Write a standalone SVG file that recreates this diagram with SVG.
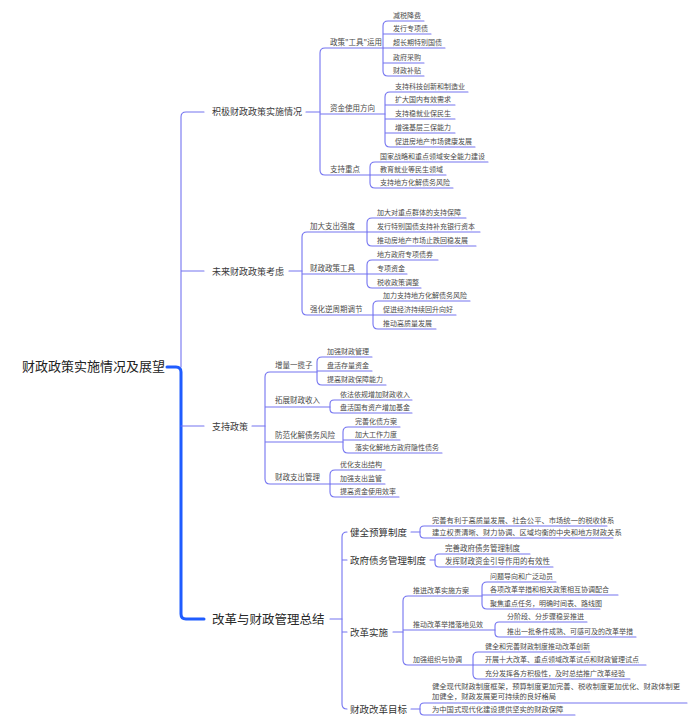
<svg xmlns="http://www.w3.org/2000/svg" width="700" height="727" viewBox="0 0 700 727">
<style>
text{font-family:"Noto Sans CJK SC","Noto Sans",sans-serif;fill:#4a4a4a}
.root{font-size:13px;fill:#222}
.b{font-size:9px;fill:#3a3a3a}
.b4{font-size:12.5px;fill:#2a2a2a}
.l1{font-size:7.5px}
.m1{font-size:9.5px;fill:#333}
.lf{font-size:7px}
.lw{font-size:7.3px}
.c path{fill:none;stroke:#7474f0;stroke-width:1.1;stroke-linecap:round}
.c path.th{stroke:#1f5cff;stroke-width:3}
</style>
<rect width="700" height="727" fill="#fff"/>
<g class="c" id="connectors">
<path class="th" d="M167,367 H176 Q181,367 181,372 V614 Q181,619 186,619 H204"/>
<path d="M181,367 V117 Q181,112 186,112 H204 M181,271 H204 M181,426 H204"/>
<!-- branch 1 -->
<path d="M306,112 H320"/>
<path d="M325,48 Q320,48 320,53 V170 Q320,175 325,175 M325,48 H383 M320,114 H385 M325,175 H370"/>
<path d="M388,21 Q383,21 383,26 V71 Q383,76 388,76 M388,21 H424 M383,34 H431 M383,48 H445 M383,63 H424 M388,76 H424"/>
<path d="M390,92 Q385,92 385,97 V142 Q385,147 390,147 M390,92 H468 M385,105 H455 M385,119 H455 M385,133 H455 M390,147 H475"/>
<path d="M375,162 Q370,162 370,167 V183 Q370,188 375,188 M375,162 H488 M370,175 H446 M375,188 H453"/>
<!-- branch 2 -->
<path d="M289,271 H302"/>
<path d="M307,232 Q302,232 302,237 V310 Q302,315 307,315 M307,232 H367 M302,274 H367 M307,315 H373"/>
<path d="M372,218 Q367,218 367,223 V241 Q367,246 372,246 M372,218 H466 M367,232 H480 M372,246 H476"/>
<path d="M372,260 Q367,260 367,265 V283 Q367,288 372,288 M372,260 H438 M367,274 H407 M372,288 H421"/>
<path d="M378,301 Q373,301 373,306 V324 Q373,329 378,329 M378,301 H470 M373,315 H456 M378,329 H436"/>
<!-- branch 3 -->
<path d="M252,426 H265"/>
<path d="M270,372 Q265,372 265,377 V479 Q265,484 270,484 M270,372 H317 M265,407 H330 M265,442 H343 M270,484 H330"/>
<path d="M322,357 Q317,357 317,362 V380 Q317,385 322,385 M322,357 H372 M317,371 H372 M322,385 H386"/>
<path d="M334,400 Q330,400 330,404 V409 Q330,413 334,413 M334,400 H412 M334,413 H412"/>
<path d="M348,427 Q343,427 343,432 V448 Q343,453 348,453 M348,427 H400 M343,440 H400 M348,453 H442"/>
<path d="M335,470 Q330,470 330,475 V492 Q330,497 335,497 M335,470 H385 M330,484 H385 M335,497 H399"/>
<!-- branch 4 -->
<path d="M330,619 H342"/>
<path d="M347,532 Q342,532 342,537 V704 Q342,709 347,709 M342,560 H347 M342,632 H347"/>
<path d="M411,532 H420 M430,560 H435 M393,632 H403 M411,709 H420"/>
<path d="M424,526 Q420,526 420,530 V534 Q420,538 424,538 M424,526 H607 M424,538 H613"/>
<path d="M439,554 Q435,554 435,558 V563 Q435,567 439,567 M439,554 H530 M439,567 H553"/>
<path d="M408,596 Q403,596 403,601 V660 Q403,665 408,665 M408,596 H482 M403,630 H495 M408,665 H473"/>
<path d="M487,582 Q482,582 482,587 V604 Q482,609 487,609 M487,582 H556 M482,595 H618 M487,609 H600"/>
<path d="M499,622 Q495,622 495,626 V633 Q495,637 499,637 M499,622 H587 M499,637 H636"/>
<path d="M478,652 Q473,652 473,657 V674 Q473,679 478,679 M478,652 H590 M473,665 H646 M478,679 H630"/>
<path d="M424,703 Q420,703 420,707 V711 Q420,715 424,715 M424,703 H687 M424,715 H575"/>
</g>
<g id="root"><text class="root" x="22" y="371">财政政策实施情况及展望</text></g>
<g id="b1">
<text class="b" x="212" y="115">积极财政政策实施情况</text>
<g id="b1-1"><text class="l1" x="330" y="45">政策"工具"运用</text>
<text class="lf" x="393" y="18">减税降费</text>
<text class="lf" x="393" y="31">发行专项债</text>
<text class="lf" x="393" y="45">超长期特别国债</text>
<text class="lf" x="393" y="60">政府采购</text>
<text class="lf" x="393" y="73">财政补贴</text></g>
<g id="b1-2"><text class="l1" x="330" y="111">资金使用方向</text>
<text class="lf" x="395" y="89">支持科技创新和制造业</text>
<text class="lf" x="395" y="102">扩大国内有效需求</text>
<text class="lf" x="395" y="116">支持稳就业保民生</text>
<text class="lf" x="395" y="130">增强基层三保能力</text>
<text class="lf" x="395" y="144">促进房地产市场健康发展</text></g>
<g id="b1-3"><text class="l1" x="330" y="172">支持重点</text>
<text class="lf" x="380" y="159">国家战略和重点领域安全能力建设</text>
<text class="lf" x="380" y="172">教育就业等民生领域</text>
<text class="lf" x="380" y="185">支持地方化解债务风险</text></g>
</g>
<g id="b2">
<text class="b" x="212" y="274.5">未来财政政策考虑</text>
<g id="b2-1"><text class="l1" x="310" y="229">加大支出强度</text>
<text class="lf" x="377" y="215">加大对重点群体的支持保障</text>
<text class="lf" x="377" y="229">发行特别国债支持补充银行资本</text>
<text class="lf" x="377" y="243">推动房地产市场止跌回稳发展</text></g>
<g id="b2-2"><text class="l1" x="310" y="271">财政政策工具</text>
<text class="lf" x="377" y="257">地方政府专项债券</text>
<text class="lf" x="377" y="271">专项资金</text>
<text class="lf" x="377" y="285">税收政策调整</text></g>
<g id="b2-3"><text class="l1" x="310" y="312">强化逆周期调节</text>
<text class="lf" x="383" y="298">加力支持地方化解债务风险</text>
<text class="lf" x="383" y="312">促进经济持续回升向好</text>
<text class="lf" x="383" y="326">推动高质量发展</text></g>
</g>
<g id="b3">
<text class="b" x="212" y="429.5">支持政策</text>
<g id="b3-1"><text class="l1" x="275" y="368">增量一揽子</text>
<text class="lf" x="327" y="354">加强财政管理</text>
<text class="lf" x="327" y="368">盘活存量资金</text>
<text class="lf" x="327" y="382">提高财政保障能力</text></g>
<g id="b3-2"><text class="l1" x="275" y="403">拓展财政收入</text>
<text class="lf" x="340" y="397">依法依规增加财政收入</text>
<text class="lf" x="340" y="410">盘活国有资产增加基金</text></g>
<g id="b3-3"><text class="l1" x="275" y="438">防范化解债务风险</text>
<text class="lf" x="355" y="424">完善化债方案</text>
<text class="lf" x="355" y="437">加大工作力度</text>
<text class="lf" x="355" y="450">落实化解地方政府隐性债务</text></g>
<g id="b3-4"><text class="l1" x="275" y="480">财政支出管理</text>
<text class="lf" x="340" y="467">优化支出结构</text>
<text class="lf" x="340" y="481">加强支出监管</text>
<text class="lf" x="340" y="494">提高资金使用效率</text></g>
</g>
<g id="b4">
<text class="b4" x="212" y="623.5">改革与财政管理总结</text>
<g id="b4-1"><text class="m1" x="350" y="535.5">健全预算制度</text>
<text class="lw" x="432" y="523">完善有利于高质量发展、社会公平、市场统一的税收体系</text>
<text class="lw" x="432" y="535">建立权责清晰、财力协调、区域均衡的中央和地方财政关系</text></g>
<g id="b4-2"><text class="m1" x="350" y="563.5">政府债务管理制度</text>
<text class="l1" x="445" y="551">完善政府债务管理制度</text>
<text class="l1" x="445" y="564">发挥财政资金引导作用的有效性</text></g>
<g id="b4-3"><text class="m1" x="350" y="635.5">改革实施</text>
<text class="lf" x="413" y="593">推进改革实施方案</text>
<text class="lf" x="490" y="579">问题导向和广泛动员</text>
<text class="lf" x="490" y="592">各项改革举措和相关政策相互协调配合</text>
<text class="lf" x="490" y="606">聚焦重点任务，明确时间表、路线图</text>
<text class="lf" x="413" y="627">推动改革举措落地见效</text>
<text class="lf" x="507" y="619">分阶段、分步骤稳妥推进</text>
<text class="lf" x="507" y="634">推出一批条件成熟、可感可及的改革举措</text>
<text class="lf" x="413" y="662">加强组织与协调</text>
<text class="lf" x="485" y="649">健全和完善财政制度推动改革创新</text>
<text class="lf" x="485" y="662">开展十大改革、重点领域改革试点和财政管理试点</text>
<text class="lf" x="485" y="676">充分发挥各方积极性，及时总结推广改革经验</text></g>
<g id="b4-4"><text class="m1" x="350" y="712.5">财政改革目标</text>
<text class="lw" x="432" y="689">健全现代财政制度框架，预算制度更加完善、税收制度更加优化、财政体制更</text>
<text class="lw" x="432" y="699">加健全，财政发展更可持续的良好格局</text>
<text class="lw" x="432" y="712">为中国式现代化建设提供坚实的财政保障</text></g>
</g>
</svg>
